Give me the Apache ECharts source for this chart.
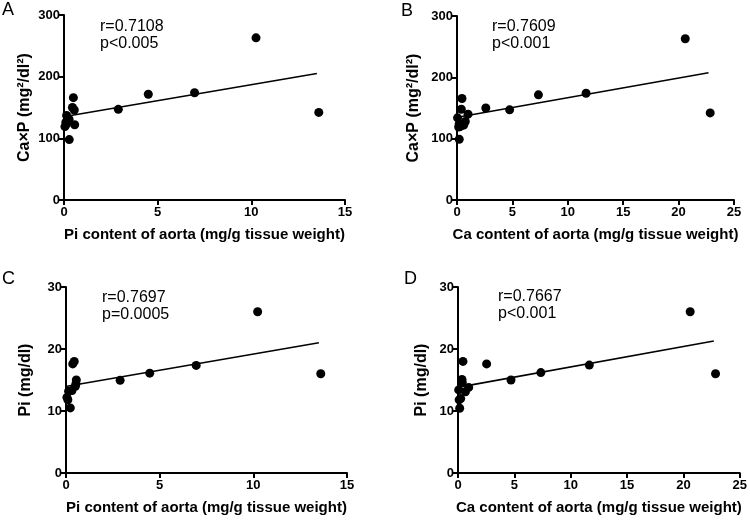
<!DOCTYPE html>
<html>
<head>
<meta charset="utf-8">
<script src="https://cdn.jsdelivr.net/npm/echarts@6/dist/echarts.min.js"></script>
<style>
  html, body { margin: 0; padding: 0; background: #fff; }
  #chart { width: 750px; height: 520px; }
</style>
</head>
<body>
<div id="chart"></div>
<script>
// panel A: Pi content of aorta vs Ca x P
const aX = [0.50, 0.45, 0.55, 0.14, 0.27, 0.10, 0.57, 0.13, 0.05, 0.20, 0.28, 2.9, 4.5, 6.97, 10.25, 13.6];
const aY = [166, 150, 146, 137, 131, 126, 122, 123, 119, 127, 98, 147, 171.5, 174, 263, 142];
const aFit = [[0.05, 135.3], [13.5, 205]];

// panel B: Ca content of aorta vs Ca x P
const bX = [0.45, 0.39, 2.6, 1.0, 0.05, 0.75, 0.2, 0.6, 0.3, 0.15, 0.2, 4.75, 7.35, 11.65, 20.6, 22.85];
const bY = [165.5, 148, 150, 140, 134, 128, 124, 122, 120, 119, 99, 147, 171.5, 174, 263, 142];
const bFit = [[0.05, 135], [22.7, 207.5]];

// panel C: Pi content of aorta vs Pi
const cX = [0.44, 0.36, 0.55, 0.53, 0.5, 0.32, 0.14, 0.05, 0.1, 0.23, 2.89, 4.47, 6.95, 10.23, 13.6];
const cY = [18.0, 17.6, 15.0, 14.4, 14.0, 13.3, 13.2, 12.2, 11.8, 10.5, 14.95, 16.1, 17.35, 26.0, 16.0];
const cFit = [[0.05, 14.0], [13.5, 21.0]];

// panel D: Ca content of aorta vs Pi
const dX = [0.44, 0.35, 0.38, 0.95, 0.06, 0.66, 0.24, 0.1, 0.15, 2.54, 4.7, 7.35, 11.65, 20.6, 22.85];
const dY = [18.0, 15.1, 14.6, 13.8, 13.4, 13.1, 12.0, 11.8, 10.45, 17.6, 15.0, 16.2, 17.4, 26.0, 16.0];
const dFit = [[0.1, 13.85], [22.7, 21.3]];

const letters = ["A", "B", "C", "D"];
const xTitles = [
  "Pi content of aorta (mg/g tissue weight)",
  "Ca content of aorta (mg/g tissue weight)",
  "Pi content of aorta (mg/g tissue weight)",
  "Ca content of aorta (mg/g tissue weight)",
];
const yTitles = ["Ca×P (mg²/dl²)", "Ca×P (mg²/dl²)", "Pi (mg/dl)", "Pi (mg/dl)"];
const stats = [
  "r=0.7108\np<0.005",
  "r=0.7609\np<0.001",
  "r=0.7697\np=0.0005",
  "r=0.7667\np<0.001",
];
const xMax = [15, 25, 15, 25];
const yMax = [300, 300, 30, 30];
const yStep = [100, 100, 10, 10];

const font = "'Liberation Sans', Arial, Helvetica, sans-serif";

const panels = [
  { xs: aX, ys: aY, fit: aFit, grid: { left: 64, top: 15, width: 281, height: 185 }, yGap: 31, stat: [100, 18], letter: [2, 1] },
  { xs: bX, ys: bY, fit: bFit, grid: { left: 457, top: 16, width: 277, height: 184 }, yGap: 35, stat: [492, 18], letter: [401, 2] },
  { xs: cX, ys: cY, fit: cFit, grid: { left: 66, top: 287, width: 281, height: 186 }, yGap: 32, stat: [102, 289], letter: [2, 270] },
  { xs: dX, ys: dY, fit: dFit, grid: { left: 458, top: 287, width: 282, height: 186 }, yGap: 28, stat: [498, 288], letter: [404, 270] },
];

const axisLine = { show: true, onZero: false, lineStyle: { color: "#000", width: 2 } };
const axisTick = { show: true, inside: false, length: 5, lineStyle: { color: "#000", width: 2 } };
const tickLabel = { color: "#000", fontFamily: font, fontWeight: "bold", fontSize: 13 };
const titleText = { color: "#000", fontFamily: font, fontWeight: "bold", fontSize: 15 };

const chart = echarts.init(document.getElementById("chart"));

chart.setOption({
  backgroundColor: "#fff",
  animation: false,
  grid: panels.map((p) => p.grid),
  xAxis: panels.map((p, i) => ({
    type: "value",
    gridIndex: i,
    min: 0,
    max: xMax[i],
    interval: 5,
    name: xTitles[i],
    nameLocation: "middle",
    nameGap: 27,
    nameTextStyle: titleText,
    axisLine,
    axisTick,
    axisLabel: { ...tickLabel, margin: 6 },
    splitLine: { show: false },
  })),
  yAxis: panels.map((p, i) => ({
    type: "value",
    gridIndex: i,
    min: 0,
    max: yMax[i],
    interval: yStep[i],
    name: yTitles[i],
    nameLocation: "middle",
    nameRotate: 90,
    nameGap: p.yGap,
    nameTextStyle: { ...titleText, fontSize: 16 },
    axisLine,
    axisTick,
    axisLabel: { ...tickLabel, margin: 4 },
    splitLine: { show: false },
  })),
  series: panels.flatMap((p, i) => [
    {
      type: "line",
      xAxisIndex: i,
      yAxisIndex: i,
      data: p.fit,
      symbol: "none",
      lineStyle: { color: "#000", width: 1.6 },
      z: 2,
    },
    {
      type: "scatter",
      xAxisIndex: i,
      yAxisIndex: i,
      data: p.xs.map((x, k) => [x, p.ys[k]]),
      symbol: "circle",
      symbolSize: 9,
      itemStyle: { color: "#000", opacity: 1 },
      z: 3,
    },
  ]),
  graphic: panels.flatMap((p, i) => [
    {
      type: "text",
      left: p.letter[0],
      top: p.letter[1],
      style: { text: letters[i], fill: "#000", font: `18px ${font}` },
    },
    {
      type: "text",
      left: p.stat[0],
      top: p.stat[1],
      style: { text: stats[i], fill: "#000", font: `16px ${font}`, lineHeight: 17 },
    },
  ]),
});
</script>
</body>
</html>
